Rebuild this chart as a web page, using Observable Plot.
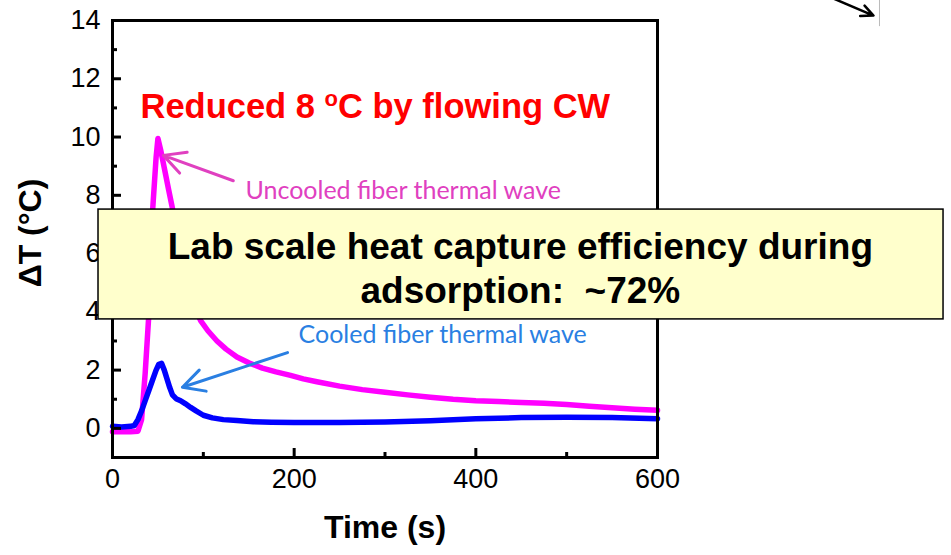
<!DOCTYPE html>
<html><head><meta charset="utf-8">
<script src="https://cdn.jsdelivr.net/npm/d3@7"></script>
<script src="https://cdn.jsdelivr.net/npm/@observablehq/plot@0.6"></script>
<style>
  body { margin: 0; background: #fff; }
  #chart svg { display: block; }
</style>
</head><body><div id="chart"></div>
<script>
// ---- data ----
const timeUncooled = [0,10,20,28,32,36,40,44,48,50,53,57,62,66,72,80,88,97,105,115,125,137,150,165,180,196,210,225,250,275,300,325,350,375,400,425,450,475,500,525,550,575,600];
const tempUncooled = [-0.12,-0.12,-0.12,-0.1,0.3,1.9,3.9,7.4,9.3,9.95,9.56,8.94,8.16,7.55,6.3,5.2,4.3,3.7,3.35,3.0,2.72,2.45,2.25,2.07,1.94,1.82,1.7,1.6,1.45,1.33,1.24,1.15,1.07,1.0,0.95,0.92,0.89,0.86,0.82,0.76,0.71,0.66,0.62];
const timeCooled = [0,10,20,24,28,32,36,40,44,48,51,54,57,60,63,66,70,75,80,86,92,100,110,122,137,155,175,200,250,300,350,400,450,500,550,600];
const tempCooled = [0.07,0.05,0.07,0.1,0.3,0.6,0.95,1.3,1.65,2.0,2.2,2.23,2.0,1.7,1.4,1.15,1.02,0.95,0.85,0.72,0.6,0.45,0.36,0.3,0.27,0.23,0.21,0.2,0.2,0.22,0.26,0.33,0.37,0.38,0.37,0.33];

const xMajorTicks = [0,200,400,600];
const xMinorTicks = [100,300,500];
const yMajorTicks = [0,2,4,6,8,10,12,14];
const yMinorTicks = [1,3,5,7,9,11,13];

const xLabel = "Time (s)";
const yLabel = "ΔT (°C)";
const headline = "Reduced 8 oC by flowing CW";
const uncooledLabel = "Uncooled fiber thermal wave";
const cooledLabel = "Cooled fiber thermal wave";
const calloutLines = ["Lab scale heat capture efficiency during", "adsorption:\u00a0 ~72%"];

// ---- tables built from the arrays ----
const uncooled = timeUncooled.map((t, i) => ({t, v: tempUncooled[i]}));
const cooled = timeCooled.map((t, i) => ({t, v: tempCooled[i]}));

const ARIAL = "Arial, 'Liberation Sans', sans-serif";
const CAL = "Lato, 'Noto Sans', sans-serif";
const PINK = "#e040c0";
const BLUE = "#2a7fe2";

const chart = Plot.plot({
  width: 951, height: 555,
  marginLeft: 112, marginRight: 294, marginTop: 20, marginBottom: 98,
  x: {domain: [0, 600], label: null},
  y: {domain: [-1, 14], label: null},
  style: {fontFamily: ARIAL, color: "#000", background: "#fff", overflow: "visible"},
  marks: [
    Plot.line(uncooled, {x: "t", y: "v", stroke: "#ff00ff", strokeWidth: 5.5}),
    Plot.line(cooled, {x: "t", y: "v", stroke: "#0000ff", strokeWidth: 5.5}),
    Plot.frame({stroke: "#000", strokeWidth: 3}),
    // inward ticks
    Plot.axisX({ticks: xMajorTicks, tickSize: -9, tickFormat: () => "", strokeWidth: 3, label: null}),
    Plot.axisX({ticks: xMinorTicks, tickSize: -5, tickFormat: () => "", strokeWidth: 3, label: null}),
    Plot.axisY({ticks: yMajorTicks, tickSize: -9, tickFormat: () => "", strokeWidth: 3, label: null}),
    Plot.axisY({ticks: yMinorTicks, tickSize: -5, tickFormat: () => "", strokeWidth: 3, label: null}),
    // tick labels
    Plot.axisX({ticks: xMajorTicks, tickSize: 0, tickPadding: 11, fontSize: 27, label: null}),
    Plot.axisY({ticks: yMajorTicks, tickSize: 0, tickPadding: 12, fontSize: 27, label: null}),
    // axis titles
    Plot.text([xLabel], {frameAnchor: "bottom", dy: 70, lineAnchor: "middle", textAnchor: "middle", text: d => d, fontSize: 32, fontWeight: "bold", fill: "#000"}),
    Plot.text([yLabel], {frameAnchor: "left", dx: -82, dy: -6, rotate: -90, textAnchor: "middle", lineAnchor: "middle", text: d => d, fontSize: 32, fontWeight: "bold", fill: "#000"}),
    // annotations
    Plot.arrow([{}], {x1: 133, y1: 8.5, x2: 56, y2: 9.37, stroke: PINK, strokeWidth: 3, headLength: 12, headAngle: 55}),
    Plot.arrow([{}], {x1: 192.7, y1: 2.6, x2: 77, y2: 1.41, stroke: BLUE, strokeWidth: 3, headLength: 12, headAngle: 55}),
    Plot.text([uncooledLabel], {x: 146.4, y: 7.89, text: d => d, textAnchor: "start", lineAnchor: "bottom", fontSize: 25, fontFamily: CAL, fill: PINK}),
    Plot.text([cooledLabel], {x: 204.8, y: 2.92, text: d => d, textAnchor: "start", lineAnchor: "bottom", fontSize: 25, fontFamily: CAL, fill: BLUE}),
    Plot.text([headline], {x: 30.8, y: 10.67, text: d => d, textAnchor: "start", lineAnchor: "bottom", fontSize: 34.5, fontWeight: "bold", fill: "#ff0000", className: "headline"}),
    // call-out box
    Plot.rect([{}], {x1: -15.4, x2: 914.9, y1: 3.74, y2: 7.51, fill: "#ffffcc", stroke: "#000", strokeWidth: 1.5}),
    Plot.text([calloutLines[0]], {x: 449, y: 5.83, text: d => d, lineAnchor: "bottom", fontSize: 37, fontWeight: "bold", fill: "#000"}),
    Plot.text([calloutLines[1]], {x: 449, y: 4.32, text: d => d, lineAnchor: "bottom", fontSize: 37, fontWeight: "bold", fill: "#000"}),
    // cropped slide fragments at top right
    Plot.arrow([{}], {x1: 760, y1: 15.2, x2: 837.8, y2: 14.17, stroke: "#000", strokeWidth: 2.5, headLength: 8, headAngle: 50}),
    Plot.ruleX([844.4], {y1: 13.79, y2: 15, stroke: "#bbb", strokeWidth: 1})
  ]
});

// superscript "o" in the headline
d3.select(chart).selectAll(".headline text").each(function() {
  const t = d3.select(this);
  t.text(null);
  t.append("tspan").text("Reduced 8 ");
  t.append("tspan").attr("dy", -12).attr("font-size", 22).text("o");
  t.append("tspan").attr("dy", 12).text("C by flowing CW");
});

document.getElementById("chart").appendChild(chart);
</script>
</body></html>
